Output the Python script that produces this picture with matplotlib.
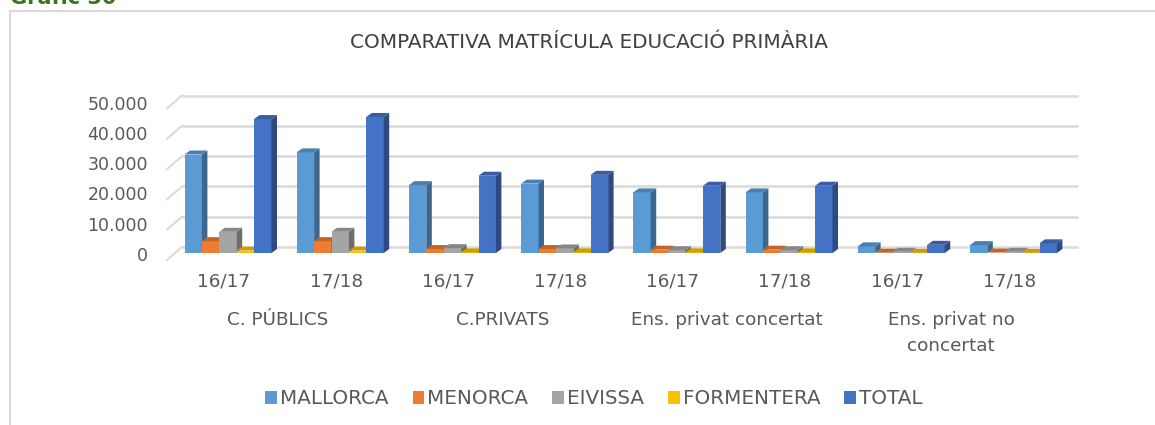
import numpy as np
import matplotlib
matplotlib.use('Agg')
import matplotlib.pyplot as plt
from matplotlib.patches import Polygon, Patch
from matplotlib.lines import Line2D
from matplotlib.colors import to_rgb
import matplotlib.transforms as mtransforms


# ===== DATA =====
periods = ['16/17', '17/18', '16/17', '17/18', '16/17', '17/18', '16/17', '17/18']
groups = ['C. PÚBLICS', 'C.PRIVATS', 'Ens. privat concertat', 'Ens. privat no\nconcertat']
series = ['MALLORCA', 'MENORCA', 'EIVISSA', 'FORMENTERA', 'TOTAL']

mallorca = [32500, 33200, 22400, 22900, 20000, 20000, 2200, 2600]
menorca = [3900, 3900, 1300, 1300, 1100, 1100, 100, 150]
eivissa = [7000, 7000, 1600, 1500, 900, 900, 400, 400]
formentera = [800, 800, 200, 200, 200, 200, 50, 50]
total = [44200, 44900, 25500, 25800, 22200, 22200, 2700, 3200]

colors = ['#5B9BD5', '#ED7D31', '#A5A5A5', '#FFC000', '#4472C4']
yticks = [0, 10000, 20000, 30000, 40000, 50000]

TEXT = '#595959'
GRID = '#D9D9D9'


def shade(c, f):
    return tuple(v * f for v in to_rgb(c))


def fmt_thousands(v):
    return f'{v:,.0f}'.replace(',', '.')


# ===== FIGURE =====
W, H = 1155, 425
fig = plt.figure(figsize=(W / 100, H / 100), dpi=100)

ax = fig.add_axes([167 / W, 172 / H, (1063 - 167) / W, 151.5 / H])
ax.set_xlim(-0.5437, 7.442)
ax.set_ylim(0, 50000)
ax.axis('off')

# pixel -> data unit factors
sx = (7.442 + 0.5437) / (1063 - 167)
sy = 50000 / 151.5
x_lo, x_hi = ax.get_xlim()

# back wall gridlines + floor diagonals
for v in yticks:
    ax.plot([x_lo + 15 * sx, x_hi + 15 * sx], [v + 6 * sy, v + 6 * sy],
            color=GRID, lw=1.8, zorder=1, clip_on=False, solid_capstyle='butt')
    ax.plot([x_lo, x_lo + 15 * sx], [v - 7 * sy, v + 6 * sy],
            color=GRID, lw=1.4, zorder=1, clip_on=False)
    ax.text(x_lo - 19 * sx, v - 3 * sy, fmt_thousands(v), ha='right', va='center',
            fontsize=12.5, color=TEXT)

# ===== 3D-LOOKING BARS =====
values = [mallorca, menorca, eivissa, formentera, total]
x = np.arange(len(periods))
w = 17.4 * sx
ddx, ddy = 5.5 * sx, 4 * sy

for i in x:
    for k, vals in enumerate(values):
        v = vals[i]
        x0 = i + (k - 2.5) * w
        z = 10 + i * 20 + k * 3
        ax.bar(x0, v, width=w, align='edge', color=colors[k], zorder=z,
               clip_on=False, linewidth=0)
        side = [(x0 + w, 0), (x0 + w, v), (x0 + w + ddx, v + ddy), (x0 + w + ddx, ddy)]
        top = [(x0, v), (x0 + w, v), (x0 + w + ddx, v + ddy), (x0 + ddx, v + ddy)]
        ax.add_patch(Polygon(side, closed=True, facecolor=shade(colors[k], 0.66),
                             edgecolor='none', zorder=z + 1, clip_on=False))
        ax.add_patch(Polygon(top, closed=True, facecolor=shade(colors[k], 0.82),
                             edgecolor='none', zorder=z + 2, clip_on=False))

# ===== AXIS LABELS =====
lab_tr = mtransforms.blended_transform_factory(ax.transData, fig.transFigure)
for i, p in enumerate(periods):
    fig.text(i - 4 * sx, 1 - 282 / H, p, transform=lab_tr, ha='center', va='center',
             fontsize=13.2, color=TEXT)
for g, name in enumerate(groups):
    fig.text(2 * g + 0.5 - 6 * sx, 1 - 311 / H, name, transform=lab_tr, ha='center',
             va='top', fontsize=13.2, color=TEXT, linespacing=1.55)

# ===== TITLE / FRAME =====
fig.text(589 / W, 1 - 43 / H, 'COMPARATIVA MATRÍCULA EDUCACIÓ PRIMÀRIA', ha='center',
         va='center', fontsize=14.4, color='#404040')
fig.text(10 / W, 1 - 4 / H, 'Gràfic 30', ha='left', va='baseline', fontsize=15,
         fontweight='bold', color='#38761D')
fig.add_artist(Line2D([9.5 / W, 9.5 / W], [0, 1 - 11 / H], color=GRID, lw=1.5))
fig.add_artist(Line2D([9.5 / W, 1], [1 - 11 / H, 1 - 11 / H], color=GRID, lw=1.5))

# ===== LEGEND =====
handles = [Patch(facecolor=c, edgecolor='none') for c in colors]
fig.legend(handles, series, loc='center', bbox_to_anchor=(594 / W, 1 - 399 / H),
           ncol=5, frameon=False, fontsize=14.3, handlelength=0.6, handleheight=0.6,
           handletextpad=0.15, columnspacing=1.2, labelcolor=TEXT)

fig.savefig('out.png', dpi=100)
